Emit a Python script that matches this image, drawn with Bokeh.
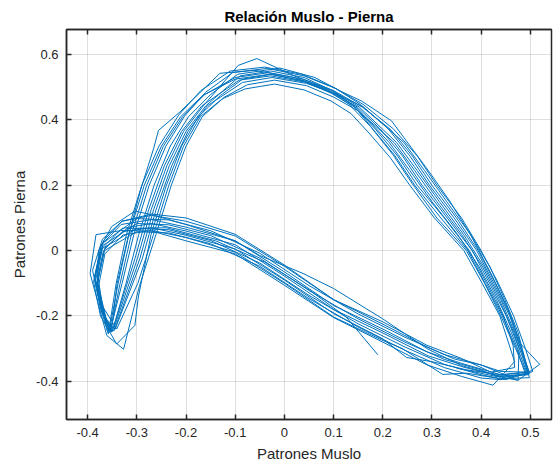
from bokeh.plotting import figure
from bokeh.models import Range1d, FixedTicker, LinearAxis, CustomJSTickFormatter
from bokeh.embed import file_html
from bokeh.resources import INLINE

# Patrones Muslo (x) and Patrones Pierna (y), one cycle per block
muslo = [
    0.190, 0.126, 0.050, -0.040, -0.140, -0.240, -0.320, -0.365, -0.380, -0.366,
    # 1
    -0.356, -0.338, -0.316, -0.285, -0.250, -0.211, -0.166,
    -0.100, -0.030, 0.040, 0.098,
    0.145, 0.213, 0.255, 0.300, 0.352, 0.396, 0.431, 0.461, 0.493,
    0.440, 0.360, 0.290, 0.200, 0.100, 0.000, -0.100, -0.200, -0.270, -0.332, -0.372, -0.386, -0.372,
    # 2
    -0.352, -0.340, -0.318, -0.292, -0.266, -0.256, -0.212,
    -0.131, -0.060, 0.020, 0.085,
    0.130, 0.175, 0.220, 0.260, 0.310, 0.370, 0.407, 0.440, 0.470, 0.492,
    0.440, 0.400, 0.325, 0.245, 0.150, 0.050, -0.050, -0.150, -0.235, -0.300, -0.366, -0.380, -0.366,
    # 3
    -0.347, -0.299, -0.271, -0.239, -0.205, -0.165,
    -0.094, -0.056, 0.020, 0.100,
    0.158, 0.215, 0.260, 0.300, 0.350, 0.394, 0.429, 0.460, 0.483, 0.498,
    0.445, 0.365, 0.292, 0.200, 0.100, 0.000, -0.100, -0.200, -0.270, -0.330, -0.370, -0.384, -0.368,
    # 4
    -0.350, -0.322, -0.296, -0.265, -0.232, -0.195, -0.150,
    -0.095, -0.009, 0.062, 0.113,
    0.157, 0.218, 0.295, 0.336, 0.380, 0.420, 0.455, 0.480, 0.519,
    0.475, 0.400, 0.346, 0.290, 0.200, 0.100, 0.000, -0.100, -0.200, -0.270, -0.330, -0.368, -0.380, -0.370,
    # 5
    -0.341, -0.298, -0.266, -0.235, -0.205, -0.171, -0.126,
    -0.080, -0.020, 0.040, 0.095,
    0.135, 0.172, 0.215, 0.255, 0.305, 0.365, 0.402, 0.438, 0.468, 0.424,
    0.360, 0.290, 0.200, 0.100, 0.000, -0.100, -0.200, -0.270, -0.330, -0.383, -0.395, -0.361,
    # 6
    -0.327, -0.295, -0.261, -0.230, -0.200, -0.167, -0.122,
    -0.075, -0.020, 0.045, 0.100,
    0.150, 0.223, 0.265, 0.310, 0.360, 0.403, 0.437, 0.466, 0.495,
    0.440, 0.400, 0.325, 0.245, 0.150, 0.050, -0.050, -0.150, -0.235, -0.300, -0.372, -0.386, -0.372,
    # 7
    -0.355, -0.330, -0.306, -0.275, -0.241, -0.203, -0.160,
    -0.105, -0.035, 0.040, 0.105,
    0.155, 0.210, 0.255, 0.295, 0.345, 0.391, 0.426, 0.458, 0.481, 0.496,
    0.440, 0.360, 0.290, 0.200, 0.100, 0.038, -0.050, -0.100, -0.200, -0.270, -0.304, -0.351, -0.378, -0.380, -0.361,
    # 8
    -0.344, -0.289, -0.261, -0.229, -0.196, -0.157,
    -0.085, -0.025, 0.045, 0.108,
    0.160, 0.243, 0.285, 0.330, 0.378, 0.418, 0.448, 0.475, 0.498,
    0.440, 0.400, 0.325, 0.245, 0.150, 0.050, -0.050, -0.150, -0.235, -0.300, -0.372, -0.388, -0.374,
    # 9
    -0.341, -0.304, -0.297, -0.271, -0.240, -0.209, -0.175, -0.130,
    -0.085, -0.025, 0.040, 0.095,
    0.142, 0.185, 0.230, 0.270, 0.325, 0.376, 0.411, 0.445, 0.465, 0.468,
    0.420, 0.360, 0.290, 0.200, 0.100, 0.000, -0.100, -0.200, -0.270, -0.330, -0.370, -0.390, -0.375,
    # 10
    -0.358, -0.342, -0.321, -0.290, -0.255, -0.215, -0.170,
    -0.110, -0.040, 0.035, 0.100,
    0.160, 0.222, 0.270, 0.310, 0.360, 0.400, 0.435, 0.466, 0.490, 0.505,
    0.450, 0.370, 0.322, 0.240, 0.200, 0.100, 0.000, -0.100, -0.200, -0.270, -0.328, -0.365, -0.378, -0.362,
    # 11
    -0.349, -0.304, -0.276, -0.244, -0.209, -0.168,
    -0.092, -0.028, 0.042, 0.100,
    0.148, 0.195, 0.240, 0.280, 0.331, 0.382, 0.417, 0.451, 0.477, 0.475,
    0.430, 0.400, 0.325, 0.245, 0.150, 0.050, -0.050, -0.150, -0.235, -0.300, -0.370, -0.385, -0.370,
    # 12
    -0.354, -0.334, -0.311, -0.280, -0.246, -0.207, -0.162,
    -0.100, -0.032, 0.038, 0.100,
    0.152, 0.228, 0.270, 0.315, 0.364, 0.406, 0.440, 0.468, 0.498,
    0.440, 0.370, 0.300, 0.248, 0.200, 0.100, 0.000, -0.100, -0.200, -0.270, -0.330, -0.368, -0.382, -0.360,
    # 13
    -0.346, -0.294, -0.266, -0.234, -0.200, -0.160,
    -0.090, -0.028, 0.040, 0.095,
    0.140, 0.180, 0.225, 0.265, 0.318, 0.373, 0.408, 0.443, 0.472, 0.490,
    0.430, 0.350,
]
pierna = [
    -0.319, -0.204, -0.120, -0.035, 0.030, 0.070, 0.068, 0.008, -0.095, -0.200,
    # 1
    -0.245, -0.100, 0.050, 0.200, 0.320, 0.410, 0.475,
    0.525, 0.540, 0.520, 0.485,
    0.440, 0.331, 0.245, 0.150, 0.050, -0.050, -0.150, -0.250, -0.372,
    -0.380, -0.345, -0.310, -0.240, -0.168, -0.065, 0.030, 0.072, 0.095, 0.080, 0.018, -0.085, -0.185,
    # 2
    -0.250, -0.100, 0.040, 0.188, 0.312, 0.368, 0.425,
    0.543, 0.552, 0.530, 0.495,
    0.450, 0.380, 0.295, 0.205, 0.100, 0.000, -0.100, -0.200, -0.300, -0.375,
    -0.395, -0.390, -0.358, -0.305, -0.234, -0.147, -0.048, 0.021, 0.054, 0.058, 0.000, -0.100, -0.200,
    # 3
    -0.240, -0.025, 0.125, 0.260, 0.365, 0.443,
    0.567, 0.588, 0.535, 0.490,
    0.440, 0.372, 0.290, 0.200, 0.100, 0.000, -0.100, -0.200, -0.300, -0.378,
    -0.387, -0.357, -0.322, -0.252, -0.180, -0.078, 0.018, 0.060, 0.083, 0.068, 0.008, -0.092, -0.195,
    # 4
    -0.248, -0.100, 0.050, 0.200, 0.320, 0.410, 0.478,
    0.540, 0.559, 0.530, 0.489,
    0.458, 0.397, 0.240, 0.152, 0.044, -0.070, -0.180, -0.285, -0.348,
    -0.397, -0.350, -0.332, -0.295, -0.225, -0.150, -0.048, 0.045, 0.090, 0.108, 0.090, 0.030, -0.070, -0.170,
    # 5
    -0.240, -0.100, 0.050, 0.200, 0.320, 0.410, 0.465,
    0.495, 0.510, 0.492, 0.458,
    0.420, 0.360, 0.285, 0.200, 0.100, 0.000, -0.100, -0.200, -0.340, -0.412,
    -0.385, -0.350, -0.280, -0.205, -0.106, -0.010, 0.030, 0.060, 0.062, 0.049, -0.070, -0.260,
    # 6
    -0.302, -0.110, 0.050, 0.200, 0.320, 0.410, 0.470,
    0.508, 0.522, 0.505, 0.470,
    0.428, 0.331, 0.245, 0.150, 0.050, -0.050, -0.150, -0.250, -0.372,
    -0.370, -0.350, -0.318, -0.265, -0.194, -0.107, -0.008, 0.061, 0.094, 0.098, 0.020, -0.080, -0.180,
    # 7
    -0.250, -0.100, 0.050, 0.200, 0.320, 0.412, 0.485,
    0.545, 0.558, 0.535, 0.496,
    0.447, 0.375, 0.290, 0.200, 0.100, 0.000, -0.100, -0.200, -0.300, -0.380,
    -0.385, -0.352, -0.300, -0.209, -0.116, -0.070, -0.015, 0.030, 0.080, 0.110, 0.121, 0.074, 0.000, -0.110, -0.220,
    # 8
    -0.240, -0.025, 0.125, 0.260, 0.365, 0.443,
    0.515, 0.530, 0.512, 0.478,
    0.440, 0.331, 0.245, 0.150, 0.050, -0.050, -0.150, -0.250, -0.389,
    -0.392, -0.380, -0.348, -0.295, -0.224, -0.137, -0.038, 0.031, 0.064, 0.068, 0.005, -0.095, -0.200,
    # 9
    -0.286, -0.229, -0.142, 0.050, 0.200, 0.320, 0.410, 0.475,
    0.525, 0.540, 0.518, 0.482,
    0.440, 0.372, 0.290, 0.200, 0.100, 0.000, -0.100, -0.200, -0.291, -0.358,
    -0.372, -0.330, -0.290, -0.218, -0.150, -0.044, 0.050, 0.100, 0.112, 0.090, 0.035, -0.060, -0.170,
    # 10
    -0.255, -0.100, 0.050, 0.200, 0.320, 0.415, 0.490,
    0.550, 0.562, 0.540, 0.500,
    0.448, 0.372, 0.290, 0.200, 0.100, 0.000, -0.100, -0.200, -0.300, -0.370,
    -0.395, -0.375, -0.379, -0.300, -0.275, -0.203, -0.100, -0.005, 0.040, 0.062, 0.048, -0.010, -0.110, -0.210,
    # 11
    -0.243, -0.025, 0.125, 0.260, 0.365, 0.443,
    0.522, 0.535, 0.516, 0.482,
    0.440, 0.372, 0.290, 0.200, 0.100, 0.000, -0.100, -0.200, -0.300, -0.397,
    -0.384, -0.365, -0.333, -0.280, -0.209, -0.122, -0.023, 0.046, 0.079, 0.083, 0.015, -0.085, -0.185,
    # 12
    -0.248, -0.100, 0.050, 0.200, 0.320, 0.410, 0.478,
    0.530, 0.545, 0.525, 0.488,
    0.440, 0.331, 0.245, 0.150, 0.050, -0.050, -0.150, -0.250, -0.372,
    -0.380, -0.365, -0.340, -0.327, -0.270, -0.193, -0.090, 0.005, 0.047, 0.070, 0.058, 0.000, -0.100, -0.245,
    # 13
    -0.245, -0.025, 0.125, 0.260, 0.365, 0.443,
    0.535, 0.550, 0.530, 0.492,
    0.445, 0.372, 0.290, 0.200, 0.100, 0.000, -0.100, -0.200, -0.300, -0.378,
    -0.385, -0.360,
]

x_ticks = [-0.4, -0.3, -0.2, -0.1, 0.0, 0.1, 0.2, 0.3, 0.4, 0.5]
y_ticks = [-0.4, -0.2, 0.0, 0.2, 0.4, 0.6]
x_labels = ["-0.4", "-0.3", "-0.2", "-0.1", "0", "0.1", "0.2", "0.3", "0.4", "0.5"]
y_labels = ["-0.4", "-0.2", "0", "0.2", "0.4", "0.6"]

FONT = "Liberation Sans"
DARK = "#262626"

p = figure(width=553, height=467, output_backend="svg", toolbar_location=None,
           x_range=Range1d(-0.443, 0.543), y_range=Range1d(-0.517, 0.677),
           min_border_left=66, min_border_right=2, min_border_top=10, min_border_bottom=48)

p.title.text = "Relación Muslo - Pierna"
p.title.align = "center"
p.title.text_font = FONT
p.title.text_font_size = "15px"
p.title.text_font_style = "bold"
p.title.text_color = "#000000"

p.line(muslo, pierna, line_color="#0072BD", line_width=1)

for ax, ticks, labels in ((p.xaxis[0], x_ticks, x_labels), (p.yaxis[0], y_ticks, y_labels)):
    ax.ticker = FixedTicker(ticks=ticks)
    ax.major_label_overrides = {t: l for t, l in zip(ticks, labels)}
    ax.minor_tick_line_color = None
    ax.major_tick_in = 5
    ax.major_tick_out = 0
    ax.axis_line_color = DARK
    ax.major_tick_line_color = DARK
    ax.axis_line_width = 1.5
    ax.major_tick_line_width = 1.5
    ax.major_label_text_font = FONT
    ax.major_label_text_font_size = "13px"
    ax.major_label_text_color = DARK
    ax.axis_label_text_font = FONT
    ax.axis_label_text_font_size = "15px"
    ax.axis_label_text_font_style = "normal"
    ax.axis_label_text_color = DARK

p.xaxis.axis_label = "Patrones Muslo"
p.yaxis.axis_label = "Patrones Pierna"
p.xaxis.major_label_standoff = 8
p.yaxis.major_label_standoff = 8

top = LinearAxis(ticker=FixedTicker(ticks=x_ticks),
                 formatter=CustomJSTickFormatter(code="return ''"),
                 major_label_text_font_size="13px", major_label_standoff=0,
                 major_tick_in=5, major_tick_out=0, minor_tick_line_color=None,
                 axis_line_color=DARK, major_tick_line_color=DARK,
                 axis_line_width=1.5, major_tick_line_width=1.5)
p.add_layout(top, "above")

p.outline_line_color = DARK
p.outline_line_width = 1.5

p.xgrid.ticker = FixedTicker(ticks=x_ticks)
p.ygrid.ticker = FixedTicker(ticks=y_ticks)
p.grid.grid_line_color = DARK
p.grid.grid_line_alpha = 0.15

open("out.html", "w").write(file_html(p, INLINE))
